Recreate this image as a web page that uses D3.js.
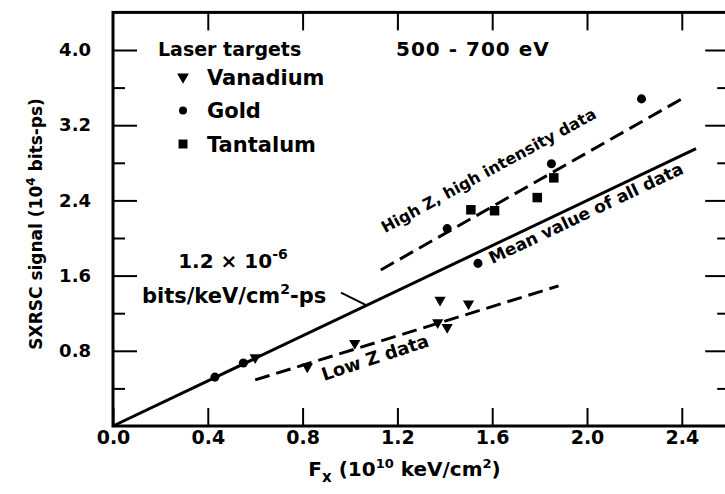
<!DOCTYPE html>
<html>
<head>
<meta charset="utf-8">
<script src="https://cdn.jsdelivr.net/npm/d3@7"></script>
<style>
body { margin: 0; background: #fff; }
text { font-family: "DejaVu Sans", sans-serif; font-weight: bold; fill: #000; }
</style>
</head>
<body>
<div id="c"></div>
<script>
"use strict";

// data (x in 10^10 keV/cm2, y in 10^4 bits-ps)
const vanadiumX = [0.60, 0.82, 1.02, 1.37, 1.41, 1.38, 1.50]
const vanadiumY = [0.73, 0.63, 0.88, 1.10, 1.05, 1.34, 1.30]
const goldX = [0.43, 0.55, 1.41, 1.54, 1.85, 2.23]
const goldY = [0.52, 0.67, 2.10, 1.73, 2.79, 3.48]
const tantalumX = [1.51, 1.61, 1.79, 1.86]
const tantalumY = [2.30, 2.29, 2.43, 2.64]

// fitted lines: [x0, y0, x1, y1]
const meanLine = [0, 0, 2.46, 2.95]
const highZLine = [1.13, 1.66, 2.40, 3.48]
const lowZLine = [0.60, 0.49, 1.88, 1.49]

const xTicks = [0, 0.4, 0.8, 1.2, 1.6, 2.0, 2.4]
const xTickLabels = ["0.0", "0.4", "0.8", "1.2", "1.6", "2.0", "2.4"]
const yMajorTicks = [0.8, 1.6, 2.4, 3.2, 4.0]
const yTickLabels = ["0.8", "1.6", "2.4", "3.2", "4.0"]
const yMinorTicks = [0.4, 1.2, 2.0, 2.8, 3.6]

const legendNames = ["Vanadium", "Gold", "Tantalum"]

const W = 725, H = 494
const left = 113, bottom = 426
const x = d3.scaleLinear().domain([0, 2.6]).range([left, left + 2.6 * 237])
const y = d3.scaleLinear().domain([0, 4.4]).range([bottom, bottom - 4.4 * 94])

const svg = d3.select('#c').append('svg')
    .attr('width', W).attr('height', H)

const tri = d3.symbol().type(d3.symbolTriangle)
const dot = d3.symbol().type(d3.symbolCircle)
const sq = d3.symbol().type(d3.symbolSquare)

// axes
function noDomain(g) { g.select('.domain').remove() }

svg.append('g')
    .attr('transform', 'translate(0,' + bottom + ')')
    .call(d3.axisBottom(x).tickValues(xTicks)
        .tickFormat((d, i) => xTickLabels[i])
        .tickSizeInner(-18).tickSizeOuter(0).tickPadding(5))
    .call(noDomain)
    .call(g => g.selectAll('text').style('font-size', '19px'))

svg.append('g')
    .attr('transform', 'translate(0,' + y(4.4) + ')')
    .call(d3.axisTop(x).tickValues(xTicks.slice(1)).tickFormat('')
        .tickSizeInner(-18).tickSizeOuter(0))
    .call(noDomain)

svg.append('g')
    .attr('transform', 'translate(' + left + ',0)')
    .call(d3.axisLeft(y).tickValues(yMajorTicks)
        .tickFormat((d, i) => yTickLabels[i])
        .tickSizeInner(-24).tickSizeOuter(0).tickPadding(22))
    .call(noDomain)
    .call(g => g.selectAll('text').style('font-size', '18px'))

svg.append('g')
    .attr('transform', 'translate(' + left + ',0)')
    .call(d3.axisLeft(y).tickValues(yMinorTicks).tickFormat('')
        .tickSizeInner(-12).tickSizeOuter(0))
    .call(noDomain)

svg.append('g')
    .attr('transform', 'translate(' + x(2.6) + ',0)')
    .call(d3.axisRight(y).tickValues(yMajorTicks).tickFormat('')
        .tickSizeInner(-24).tickSizeOuter(0))
    .call(noDomain)

svg.append('g')
    .attr('transform', 'translate(' + x(2.6) + ',0)')
    .call(d3.axisRight(y).tickValues(yMinorTicks).tickFormat('')
        .tickSizeInner(-12).tickSizeOuter(0))
    .call(noDomain)

svg.selectAll('.tick line').attr('stroke', '#000').attr('stroke-width', 2)

// frame
svg.append('rect')
    .attr('x', x(0)).attr('y', y(4.4))
    .attr('width', x(2.6) - x(0)).attr('height', y(0) - y(4.4))
    .attr('fill', 'none').attr('stroke', '#000').attr('stroke-width', 3)

// axis titles
let xt = svg.append('text')
    .attr('x', x(1.23)).attr('y', 476)
    .attr('text-anchor', 'middle')
    .style('font-size', '20px')
xt.append('tspan').text('F')
xt.append('tspan').text('x').attr('dy', 6).style('font-size', '15px')
xt.append('tspan').text(' (10').attr('dy', -6)
xt.append('tspan').text('10').attr('dy', -8).style('font-size', '13px')
xt.append('tspan').text(' keV/cm').attr('dy', 8)
xt.append('tspan').text('2').attr('dy', -8).style('font-size', '13px')
xt.append('tspan').text(')').attr('dy', 8)

let yt = svg.append('text')
    .attr('transform', 'translate(42,' + y(2.15) + ') rotate(-90)')
    .attr('text-anchor', 'middle')
    .style('font-size', '17px')
yt.append('tspan').text('SXRSC signal (10')
yt.append('tspan').text('4').attr('dy', -7).style('font-size', '12px')
yt.append('tspan').text(' bits-ps)').attr('dy', 7)

// fitted lines
function drawLine(p, dash) {
    svg.append('line')
        .attr('x1', x(p[0])).attr('y1', y(p[1]))
        .attr('x2', x(p[2])).attr('y2', y(p[3]))
        .attr('stroke', '#000').attr('stroke-width', 3)
        .attr('stroke-dasharray', dash)
}
drawLine(meanLine, null)
drawLine(highZLine, '15,7')
drawLine(lowZLine, '15,7')

function angleOf(p) {
    return Math.atan2(y(p[3]) - y(p[1]), x(p[2]) - x(p[0])) * 180 / Math.PI
}

// data points
function drawPoints(xs, ys, sym, size, rot) {
    svg.append('g').selectAll('path')
        .data(xs.map((d, i) => [d, ys[i]]))
        .enter().append('path')
        .attr('d', sym.size(size)())
        .attr('transform', d => 'translate(' + x(d[0]) + ',' + y(d[1]) + ') rotate(' + rot + ')')
        .attr('fill', '#000')
}
drawPoints(vanadiumX, vanadiumY, tri, 55, 180)
drawPoints(goldX, goldY, dot, 64, 0)
drawPoints(tantalumX, tantalumY, sq, 90, 0)

// line labels
function lineLabel(txt, px, py, ang, size) {
    svg.append('text')
        .attr('transform', 'translate(' + x(px) + ',' + y(py) + ') rotate(' + ang + ')')
        .style('font-size', size + 'px')
        .text(txt)
}
lineLabel('High Z, high intensity data', 1.148, 2.05, angleOf(highZLine) + 1, 16)
lineLabel('Mean value of all data', 1.60, 1.72, angleOf(meanLine), 17)
lineLabel('Low Z data', 0.89, 0.48, angleOf(lowZLine) - 1, 18)

// slope annotation
let s1 = svg.append('text')
    .attr('x', x(0.275)).attr('y', y(1.68))
    .style('font-size', '20px')
s1.append('tspan').text('1.2 \u00d7 10')
s1.append('tspan').text('-6').attr('dy', -9).style('font-size', '14px')

let s2 = svg.append('text')
    .attr('x', x(0.122)).attr('y', y(1.31))
    .style('font-size', '21px')
s2.append('tspan').text('bits/keV/cm')
s2.append('tspan').text('2').attr('dy', -9).style('font-size', '14px')
s2.append('tspan').text('-ps').attr('dy', 9)

svg.append('line')
    .attr('x1', x(0.962)).attr('y1', y(1.42))
    .attr('x2', x(1.07)).attr('y2', y(1.2 * 1.07))
    .attr('stroke', '#000').attr('stroke-width', 2)

// legend
svg.append('text').attr('x', 158).attr('y', 56)
    .style('font-size', '19px').text('Laser targets')
svg.append('text').attr('x', 396).attr('y', 56)
    .style('font-size', '20px').style('letter-spacing', '1px')
    .text('500 - 700 eV')

const legendSyms = [[tri, 60, 180], [dot, 50, 0], [sq, 80, 0]]
legendNames.forEach((name, i) => {
    let g = svg.append('g').attr('transform', 'translate(183,' + (77 + i * 33.5) + ')')
    g.append('path')
        .attr('d', legendSyms[i][0].size(legendSyms[i][1])())
        .attr('transform', 'rotate(' + legendSyms[i][2] + ')')
        .attr('fill', '#000')
    g.append('text').attr('x', 24).attr('y', 7.5)
        .style('font-size', '21px').text(name)
})
</script>
</body>
</html>
